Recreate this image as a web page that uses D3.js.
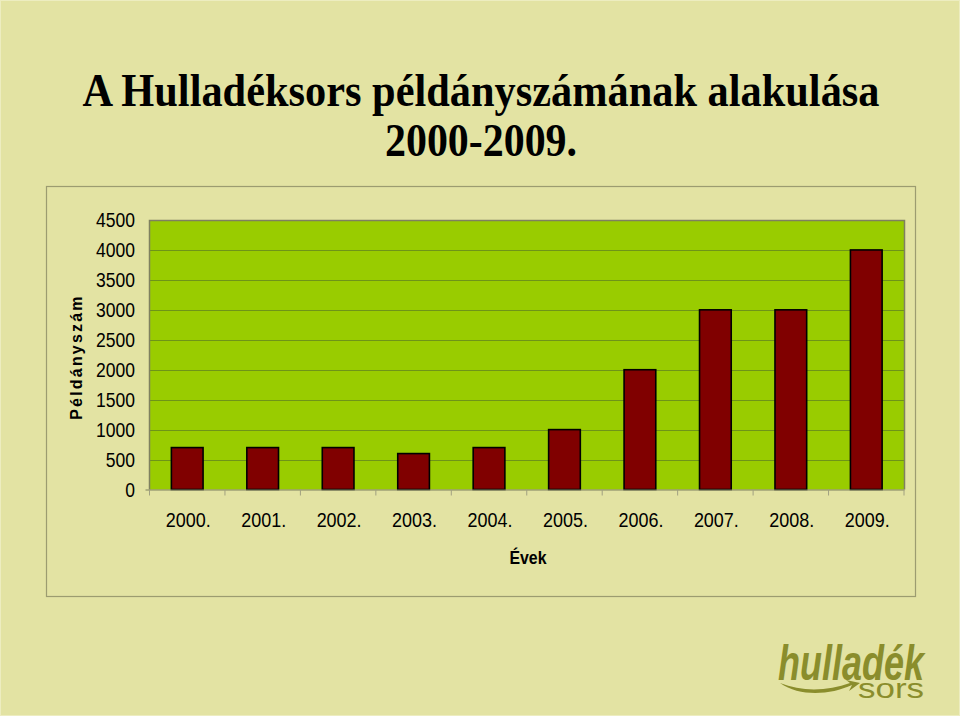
<!DOCTYPE html>
<html>
<head>
<meta charset="utf-8">
<script src="https://cdn.jsdelivr.net/npm/d3@7/dist/d3.min.js"></script>
<style>
  html, body { margin: 0; padding: 0; background: #E3E3A3; }
  svg { display: block; }
</style>
</head>
<body>
<div id="chart"></div>
<script>
const years = ["2000.", "2001.", "2002.", "2003.", "2004.", "2005.", "2006.", "2007.", "2008.", "2009."];
const copies = [700, 700, 700, 600, 700, 1000, 2000, 3000, 3000, 4000];
const yTicks = [0, 500, 1000, 1500, 2000, 2500, 3000, 3500, 4000, 4500];
const titleLines = ["A Hulladéksors példányszámának alakulása", "2000-2009."];
const yTitle = "Példányszám";
const xTitle = "Évek";

const W = 960, H = 716;
const svg = d3.select("#chart").append("svg").attr("width", W).attr("height", H);

// background
svg.append("rect").attr("x", 0).attr("y", 0).attr("width", W).attr("height", H).attr("fill", "#E3E3A3");
svg.append("rect").attr("x", 0.5).attr("y", 0.5).attr("width", W - 1).attr("height", H - 1)
  .attr("fill", "none").attr("stroke", "#EDEDC0").attr("stroke-width", 1);

// title
svg.append("text").attr("x", 481).attr("y", 106).attr("text-anchor", "middle")
  .attr("font-family", "'Liberation Serif', 'Times New Roman', serif").attr("font-weight", "bold")
  .attr("font-size", 46).attr("fill", "#000")
  .attr("textLength", 797).attr("lengthAdjust", "spacingAndGlyphs")
  .text(titleLines[0]);
svg.append("text").attr("x", 481).attr("y", 156).attr("text-anchor", "middle")
  .attr("font-family", "'Liberation Serif', 'Times New Roman', serif").attr("font-weight", "bold")
  .attr("font-size", 46).attr("fill", "#000")
  .attr("textLength", 192).attr("lengthAdjust", "spacingAndGlyphs")
  .text(titleLines[1]);

// chart frame
svg.append("rect").attr("x", 46.5).attr("y", 186.5).attr("width", 869).attr("height", 410)
  .attr("fill", "#E3E3A3").attr("stroke", "#9C9C70").attr("stroke-width", 1.2);

// scales
const plot = { left: 149.5, right: 904, top: 220, bottom: 489.5 };
const x = d3.scaleBand().domain(years).range([plot.left, plot.right])
  .paddingInner(0.58).paddingOuter(0.29);
const y = d3.scaleLinear().domain([0, 4500]).range([plot.bottom, plot.top]);

// plot area
svg.append("rect").attr("x", plot.left).attr("y", plot.top)
  .attr("width", plot.right - plot.left).attr("height", plot.bottom - plot.top)
  .attr("fill", "#99CC00");

// gridlines
svg.append("g").selectAll("line").data(yTicks.filter(d => d > 0)).join("line")
  .attr("x1", plot.left).attr("x2", plot.right)
  .attr("y1", d => Math.round(y(d)) + 0.5).attr("y2", d => Math.round(y(d)) + 0.5)
  .attr("stroke", "#6E9418").attr("stroke-width", 1.2);

// plot border (top/right/left)
svg.append("path")
  .attr("d", `M${plot.left},${plot.bottom} V${plot.top + 0.5} H${plot.right + 0.5} V${plot.bottom}`)
  .attr("fill", "none").attr("stroke", "#7F8060").attr("stroke-width", 1.5);

// bars
svg.append("g").selectAll("rect").data(copies).join("rect")
  .attr("x", (d, i) => x(years[i]))
  .attr("y", d => y(d))
  .attr("width", x.bandwidth())
  .attr("height", d => y(0) - y(d))
  .attr("fill", "#800000").attr("stroke", "#000").attr("stroke-width", 1.6);

// x axis
const xAxis = svg.append("g");
xAxis.append("line").attr("x1", plot.left - 4).attr("x2", plot.right + 0.5)
  .attr("y1", plot.bottom + 0.5).attr("y2", plot.bottom + 0.5)
  .attr("stroke", "#7F8060").attr("stroke-width", 1.2);
const step = x.step();
const boundaries = d3.range(years.length + 1).map(i => plot.left + i * step);
xAxis.selectAll("line.tick").data(boundaries).join("line").attr("class", "tick")
  .attr("x1", d => d).attr("x2", d => d)
  .attr("y1", plot.bottom).attr("y2", plot.bottom + 6)
  .attr("stroke", "#A0A080").attr("stroke-width", 1);
xAxis.selectAll("text").data(years).join("text")
  .attr("x", d => x(d) + x.bandwidth() / 2 + 1)
  .attr("y", 527)
  .attr("text-anchor", "middle")
  .attr("font-family", "'Liberation Sans', Arial, sans-serif").attr("font-size", 19.5)
  .attr("textLength", 45).attr("lengthAdjust", "spacingAndGlyphs")
  .attr("fill", "#000")
  .text(d => d);

// y axis labels
svg.append("g").selectAll("text").data(yTicks).join("text")
  .attr("x", 135).attr("y", d => y(d) + 7)
  .attr("text-anchor", "end")
  .attr("font-family", "'Liberation Sans', Arial, sans-serif").attr("font-size", 19.5)
  .attr("textLength", d => String(d).length * 9.75).attr("lengthAdjust", "spacingAndGlyphs")
  .attr("fill", "#000")
  .text(d => d);

// axis titles
svg.append("text")
  .attr("transform", "translate(82,357) rotate(-90)")
  .attr("text-anchor", "middle")
  .attr("font-family", "'Liberation Sans', Arial, sans-serif").attr("font-weight", "bold")
  .attr("font-size", 16).attr("letter-spacing", 2.2).attr("fill", "#000")
  .text(yTitle);
svg.append("text").attr("x", 528).attr("y", 564).attr("text-anchor", "middle")
  .attr("font-family", "'Liberation Sans Narrow', 'Arial Narrow', 'Liberation Sans', sans-serif")
  .attr("font-weight", "bold").attr("font-size", 18).attr("fill", "#000")
  .attr("textLength", 37).attr("lengthAdjust", "spacingAndGlyphs")
  .text(xTitle);

// logo
const logo = svg.append("g").attr("fill", "#8A8D2C");
logo.append("text").attr("transform", "translate(778,680) scale(1,1.4)")
  .attr("font-family", "'Liberation Sans', Arial, sans-serif")
  .attr("font-weight", "bold").attr("font-style", "italic").attr("font-size", 36)
  .text("hulladék");
logo.append("text").attr("x", 858).attr("y", 698)
  .attr("font-family", "'Liberation Sans', Arial, sans-serif")
  .attr("font-size", 27)
  .attr("textLength", 66).attr("lengthAdjust", "spacingAndGlyphs")
  .text("sors");
logo.append("path")
  .attr("d", "M780,683 C800,697 830,695 852,685 L849,691 L860,683 L846,680 L850,683 C828,691 802,692 780,683 Z");
</script>
</body>
</html>
